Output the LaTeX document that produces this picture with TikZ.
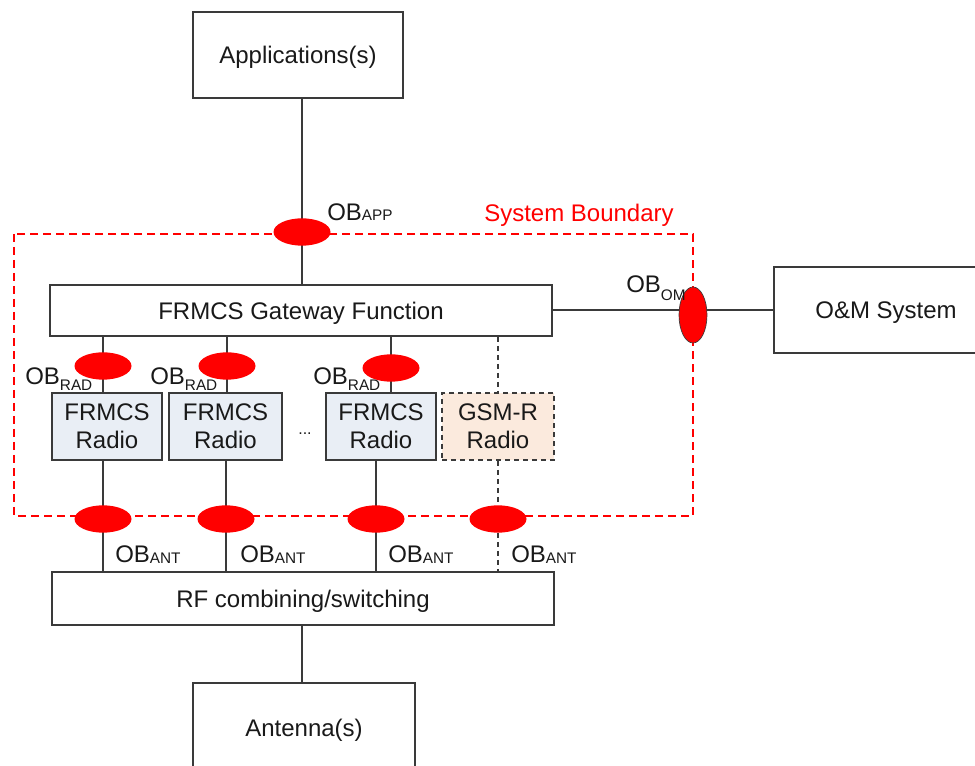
\documentclass[tikz,border=0pt]{standalone}
\usepackage{fontspec}
\setmainfont{Liberation Sans}
\usetikzlibrary{shapes.geometric}
\definecolor{radiofill}{HTML}{E9EEF5}
\definecolor{gsmfill}{HTML}{FBEADD}
\definecolor{wirecol}{HTML}{3A3A3A}
\definecolor{obred}{HTML}{FF0000}
\pgfdeclarelayer{bg}
\pgfsetlayers{bg,main}
% OB label with a lowered subscript
\newcommand{\obtag}[2]{OB\raisebox{#2}{\fontsize{11.5}{12}\selectfont #1}}
\begin{document}
\begin{tikzpicture}[x=0.75pt,y=-0.75pt,
  every node/.style={font=\fontsize{18}{21}\selectfont, text=black!90},
  box/.style={draw=wirecol, line width=1.35pt, rectangle, inner sep=0pt, align=center},
  block/.style={box, text depth=0pt},
  radio/.style={box, fill=radiofill, minimum width=82.5pt, minimum height=50.25pt},
  gsm/.style={box, fill=gsmfill, dash pattern=on 3.75pt off 3pt, minimum width=84pt, minimum height=50.25pt},
  obh/.style={ellipse, fill=obred, draw=none, inner sep=0pt, minimum width=42.75pt, minimum height=20.5pt},
  obv/.style={ellipse, fill=obred, draw=wirecol, line width=0.5pt, inner sep=0pt, minimum width=21pt, minimum height=42pt},
  wire/.style={draw=wirecol, line width=1.35pt},
  dwire/.style={wire, dash pattern=on 3.75pt off 3pt},
  boundary/.style={draw=obred, line width=1.2pt, dash pattern=on 6pt off 3.75pt},
  oblabel/.style={anchor=base west, inner sep=0pt}
]
\useasboundingbox (0,0) rectangle (975,766);

% main blocks
\node[block, minimum width=157.5pt, minimum height=64.5pt] (app) at (298,55) {Applications(s)};
\node[block, minimum width=376.5pt, minimum height=38.25pt] (gw) at (301,310.5) {FRMCS Gateway Function};
\node[block, minimum width=168pt, minimum height=64.5pt] (om) at (886,310) {O\&M System};
\node[block, minimum width=376.5pt, minimum height=39.75pt] (rf) at (303,598.5) {RF combining/switching};
\node[block, minimum width=166.5pt, minimum height=67.5pt] (ant) at (304,728) {Antenna(s)};

% radios
\node[radio, minimum width=82.5pt] (r1) at (107,426.5) {FRMCS\\Radio};
\node[radio, minimum width=84.75pt] (r2) at (225.5,426.5) {FRMCS\\Radio};
\node[radio, minimum width=82.5pt] (r3) at (381,426.5) {FRMCS\\Radio};
\node[gsm] (r4) at (498,426.5) {GSM-R\\Radio};
\node[font=\fontsize{12}{12}\selectfont] (dots) at (305,434) {...};

% open-boundary points
\node[obh] (eapp) at (302,232) {};
\node[obv] (eom) at (693,315) {};
\node[obh] (ra1) at (103,366) {};
\node[obh] (ra2) at (227,366) {};
\node[obh] (ra3) at (391,368) {};
\node[obh] (an1) at (103,519) {};
\node[obh] (an2) at (226,519) {};
\node[obh] (an3) at (376,519) {};
\node[obh] (an4) at (498,519) {};

\begin{pgfonlayer}{bg}
  % system boundary
  \draw[boundary] (14,234) rectangle (693,516);
  % interfaces
  \draw[wire] (app.south -| eapp) -- (gw.north -| eapp);
  \draw[wire] (gw.east |- om.west) -- (om.west);
  \draw[wire] (gw.south -| ra1) -- (r1.north -| ra1);
  \draw[wire] (gw.south -| ra2) -- (r2.north -| ra2);
  \draw[wire] (gw.south -| ra3) -- (r3.north -| ra3);
  \draw[dwire] (gw.south -| an4) -- (r4.north -| an4);
  \draw[wire] (r1.south -| an1) -- (rf.north -| an1);
  \draw[wire] (r2.south -| an2) -- (rf.north -| an2);
  \draw[wire] (r3.south -| an3) -- (rf.north -| an3);
  \draw[dwire] (r4.south -| an4) -- (rf.north -| an4);
  \draw[wire] (rf.south -| eapp) -- (ant.north -| eapp);
\end{pgfonlayer}

% labels
\node[text=obred, anchor=base west, inner sep=0pt] (sb) at (484,222) {System Boundary};
\node[oblabel] (lapp) at (327,221) {\obtag{APP}{0pt}};
\node[oblabel] (lom) at (626,293) {\obtag{OM}{-6pt}};
\node[oblabel] (lr1) at (25,385) {\obtag{RAD}{-4pt}};
\node[oblabel] (lr2) at (150,385) {\obtag{RAD}{-4pt}};
\node[oblabel] (lr3) at (313,385) {\obtag{RAD}{-4pt}};
\node[oblabel] (la1) at (115,562) {\obtag{ANT}{-1pt}};
\node[oblabel] (la2) at (240,562) {\obtag{ANT}{-1pt}};
\node[oblabel] (la3) at (388,562) {\obtag{ANT}{-1pt}};
\node[oblabel] (la4) at (511,562) {\obtag{ANT}{-1pt}};
\end{tikzpicture}
\end{document}
